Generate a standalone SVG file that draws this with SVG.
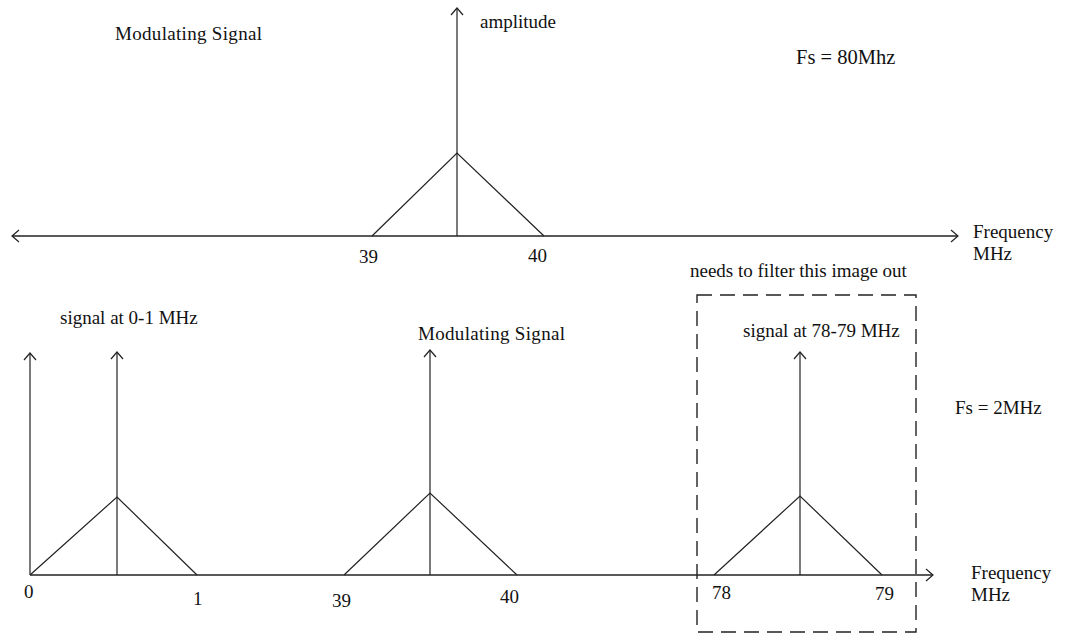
<svg xmlns="http://www.w3.org/2000/svg" width="1065" height="634" viewBox="0 0 1065 634">
<style>
text{font-family:"Liberation Serif","Times New Roman",serif;font-size:19px;fill:#111}
.ln{stroke:#222;stroke-width:1.2;fill:none}
.ax{stroke:#222;stroke-width:1.6;fill:none}
.box{stroke:#222;stroke-width:1.4;fill:none;stroke-dasharray:15 8}
</style>
<defs>
<marker id="arr" viewBox="-10 -7 12 14" refX="0" refY="0" markerWidth="12" markerHeight="14" markerUnits="userSpaceOnUse" orient="auto-start-reverse">
<path d="M-7,-6 L0,0 L-7,6" fill="none" stroke="#222" stroke-width="1.2"/>
</marker>
</defs>
<g id="connectors">
<line class="ax" x1="12" y1="236" x2="958" y2="236" marker-start="url(#arr)" marker-end="url(#arr)"/>
<line class="ln" x1="457" y1="236" x2="457" y2="8" marker-end="url(#arr)"/>
<polyline class="ln" points="372,236 457,153 544,236"/>
<line class="ax" x1="30" y1="575" x2="933" y2="575" marker-end="url(#arr)"/>
<line class="ln" x1="30" y1="575" x2="30" y2="353" marker-end="url(#arr)"/>
<line class="ln" x1="117" y1="575" x2="117" y2="352" marker-end="url(#arr)"/>
<polyline class="ln" points="30,575 117,497 197,575"/>
<line class="ln" x1="430" y1="575" x2="430" y2="350" marker-end="url(#arr)"/>
<polyline class="ln" points="344,575 430,493 517,575"/>
<line class="ln" x1="800" y1="575" x2="800" y2="352" marker-end="url(#arr)"/>
<polyline class="ln" points="714,575 800,496 882,575"/>
</g>
<g id="filter-box">
<rect class="box" x="697" y="295" width="219" height="337"/>
</g>
<g id="labels-top">
<text x="115" y="40" textLength="147">Modulating Signal</text>
<text x="480" y="28">amplitude</text>
<text x="796" y="64" style="font-size:20.5px">Fs = 80Mhz</text>
<text x="359" y="263">39</text>
<text x="528" y="262">40</text>
<text x="973" y="238">Frequency</text>
<text x="973" y="260">MHz</text>
</g>
<g id="labels-bottom">
<text x="690" y="277">needs to filter this image out</text>
<text x="60" y="324">signal at 0-1 MHz</text>
<text x="418" y="340" textLength="147">Modulating Signal</text>
<text x="743" y="337">signal at 78-79 MHz</text>
<text x="955" y="414">Fs = 2MHz</text>
<text x="24" y="598">0</text>
<text x="193" y="605">1</text>
<text x="332" y="607">39</text>
<text x="500" y="603">40</text>
<text x="712" y="599">78</text>
<text x="875" y="600">79</text>
<text x="971" y="579">Frequency</text>
<text x="971" y="601">MHz</text>
</g>
</svg>
